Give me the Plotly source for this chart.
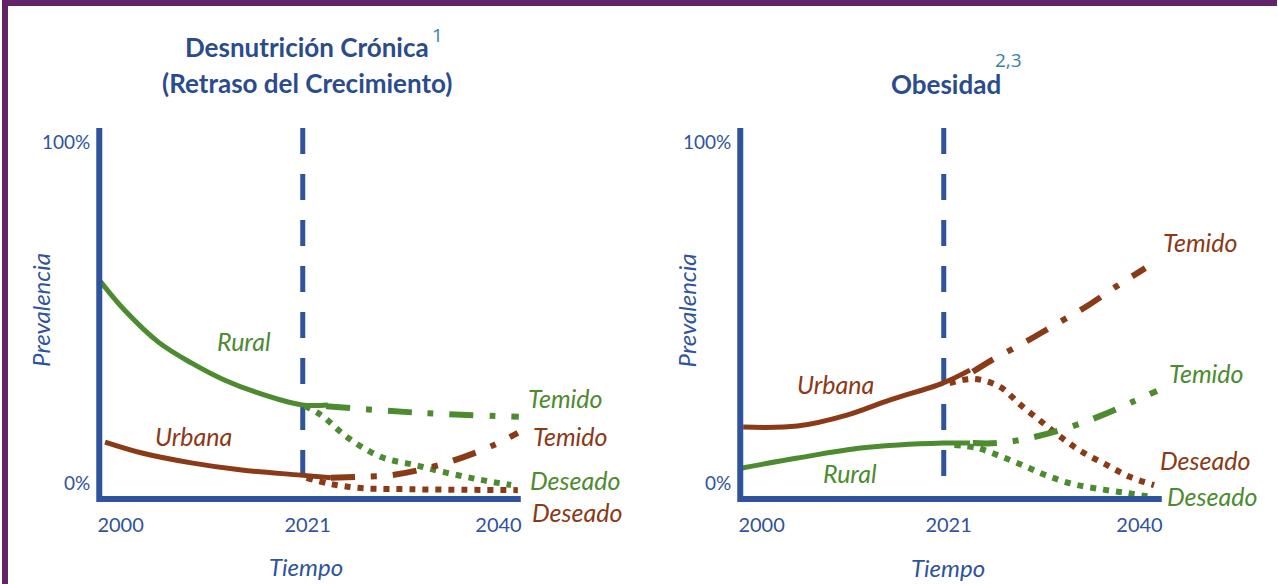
import plotly.graph_objects as go

W, H = 1278, 584
BLUE = "#2f539c"
TITLE_BLUE = "#2b4c8c"
GREEN = "#4d8b31"
BROWN = "#8b3a17"
PURPLE = "#612468"
SUP = "#3a7fa6"
FONT = "Lato"

# ---------------- data (x = year, y = prevalence %) ----------------
tick_positions = [2002.2, 2021.5, 2041.2]
tick_text = ["2000", "2021", "2040"]
pct_ticks = [0, 100]
pct_text = ["0%", "100%"]
CURRENT_YEAR = 2021

# Panel 1: Desnutrición crónica
dn_rural_x = [2000, 2002.6, 2006.1, 2009.5, 2012.9, 2016.4, 2020.9, 2023.6]
dn_rural_y = [59.5, 50.7, 41.3, 35.2, 30.2, 26.4, 22.9, 22.9]
dn_urb_x = [2000.6, 2004.4, 2009.5, 2014.7, 2020.8, 2023.9]
dn_urb_y = [12.0, 8.8, 5.9, 3.8, 2.3, 1.5]
dn_rural_temido_x = [2023.4, 2033.5, 2043.3]
dn_rural_temido_y = [22.5, 20.5, 19.4]
dn_rural_deseado_x = [2021.2, 2022.9, 2025.7, 2029.1, 2032.5, 2036.0, 2039.4, 2042.5]
dn_rural_deseado_y = [22.6, 19.9, 13.2, 7.6, 5.3, 2.9, 0.9, -0.6]
dn_urb_temido_x = [2023.9, 2026.5, 2030.1, 2033.9, 2037.3, 2040.7, 2043.2]
dn_urb_temido_y = [1.5, 1.8, 2.3, 4.4, 7.3, 11.1, 14.7]
dn_urb_deseado_x = [2021.4, 2023.9, 2027.0, 2031.1, 2043.2]
dn_urb_deseado_y = [1.5, -0.3, -1.5, -1.8, -2.1]

# Panel 2: Obesidad
ob_urb_x = [2000.3, 2005.9, 2011.0, 2015.4, 2020.9, 2023.7]
ob_urb_y = [16.4, 16.7, 19.9, 24.3, 29.3, 33.1]
ob_rural_x = [2000.2, 2005.9, 2012.7, 2020.9, 2023.7]
ob_rural_y = [4.4, 7.3, 10.3, 11.7, 11.7]
ob_urb_temido_x = [2024.0, 2026.0, 2029.4, 2032.6, 2035.8, 2038.9, 2041.8]
ob_urb_temido_y = [32.6, 36.1, 41.3, 46.6, 51.9, 57.8, 63.0]
ob_urb_deseado_x = [2021.6, 2024.2, 2026.8, 2028.8, 2031.1, 2033.2, 2035.3, 2037.8, 2040.2, 2042.7]
ob_urb_deseado_y = [29.3, 30.5, 28.2, 23.2, 17.9, 13.2, 9.1, 5.3, 1.8, -0.6]
ob_rural_temido_x = [2024.0, 2026.5, 2029.9, 2033.7, 2037.1, 2040.5, 2043.0]
ob_rural_temido_y = [11.7, 11.7, 13.2, 16.1, 19.6, 23.8, 27.0]
ob_rural_deseado_x = [2022.1, 2024.4, 2026.8, 2029.3, 2031.7, 2034.3, 2037.1, 2039.8, 2042.4]
ob_rural_deseado_y = [11.1, 10.3, 7.9, 5.0, 2.1, -0.3, -1.8, -2.9, -4.1]

# ---------------- layout helpers (pixels -> paper) ----------------
def px(x):
    return x / W

def py(y):
    return 1 - y / H

X_RANGE = [2000, 2043.5]
Y_RANGE = [-4.7, 104.1]
AX_TOP, AX_BOT = 128, 499
P1_L, P1_R = 97.5, 520
P2_L, P2_R = 740, 1162.5

SOLID = "solid"
TEMIDO = "24px,16px,6px,16px"
DESEADO = "6px,7px"

fig = go.Figure()

def add_line(x, y, color, dash, axis):
    fig.add_trace(go.Scatter(
        x=x, y=y, mode="lines", xaxis="x" + axis, yaxis="y" + axis,
        line=dict(color=color, width=5 if dash == SOLID else 6, dash=dash,
                  shape="spline", smoothing=1.0),
        hoverinfo="skip", showlegend=False,
    ))

# panel 1
add_line(dn_rural_deseado_x, dn_rural_deseado_y, GREEN, DESEADO, "")
add_line(dn_urb_deseado_x, dn_urb_deseado_y, BROWN, DESEADO, "")
add_line(dn_rural_temido_x, dn_rural_temido_y, GREEN, TEMIDO, "")
add_line(dn_urb_temido_x, dn_urb_temido_y, BROWN, TEMIDO, "")
add_line(dn_rural_x, dn_rural_y, GREEN, SOLID, "")
add_line(dn_urb_x, dn_urb_y, BROWN, SOLID, "")
# panel 2
add_line(ob_rural_deseado_x, ob_rural_deseado_y, GREEN, DESEADO, "2")
add_line(ob_urb_deseado_x, ob_urb_deseado_y, BROWN, DESEADO, "2")
add_line(ob_rural_temido_x, ob_rural_temido_y, GREEN, TEMIDO, "2")
add_line(ob_urb_temido_x, ob_urb_temido_y, BROWN, TEMIDO, "2")
add_line(ob_rural_x, ob_rural_y, GREEN, SOLID, "2")
add_line(ob_urb_x, ob_urb_y, BROWN, SOLID, "2")

xaxis_common = dict(
    range=X_RANGE, showgrid=False, zeroline=False, showline=False,
    tickmode="array", tickvals=tick_positions, ticktext=tick_text, ticks="",
    tickfont=dict(family=FONT, size=20, color=BLUE), fixedrange=True,
    ticklabelstandoff=12,
)
yaxis_common = dict(
    range=Y_RANGE, showgrid=False, zeroline=False, showline=False,
    tickmode="array", tickvals=pct_ticks, ticktext=pct_text, ticks="",
    tickfont=dict(family=FONT, size=19, color=BLUE), fixedrange=True,
    domain=[py(AX_BOT), py(AX_TOP)], ticklabelstandoff=8,
)

fig.update_layout(
    width=W, height=H, margin=dict(l=0, r=0, t=0, b=0),
    paper_bgcolor="white", plot_bgcolor="rgba(0,0,0,0)",
    xaxis=dict(domain=[px(P1_L), px(P1_R)], anchor="y", **xaxis_common),
    yaxis=dict(anchor="x", **yaxis_common),
    xaxis2=dict(domain=[px(P2_L), px(P2_R)], anchor="y2", **xaxis_common),
    yaxis2=dict(anchor="x2", **yaxis_common),
    showlegend=False,
)

shapes = []
# purple frame (top and left)
shapes.append(dict(type="rect", xref="paper", yref="paper", x0=0, x1=6 / W, y0=0, y1=1,
                   fillcolor=PURPLE, line=dict(width=0), layer="above"))
shapes.append(dict(type="rect", xref="paper", yref="paper", x0=0, x1=1, y0=1 - 6 / H, y1=1,
                   fillcolor=PURPLE, line=dict(width=0), layer="above"))
# current-year dashed lines
for ax in ["x", "x2"]:
    yd = "y domain" if ax == "x" else "y2 domain"
    shapes.append(dict(type="line", xref=ax, yref=yd, x0=CURRENT_YEAR, x1=CURRENT_YEAR, y0=1, y1=0,
                       line=dict(color=BLUE, width=5, dash="26px,20px"), layer="below"))
# L-shaped axes
for L, R in [(P1_L, P1_R), (P2_L, P2_R)]:
    path = f"M {px(L)},{py(AX_TOP)} L {px(L)},{py(AX_BOT)} L {px(R)},{py(AX_BOT)}"
    shapes.append(dict(type="path", xref="paper", yref="paper", path=path,
                       line=dict(color=BLUE, width=6), layer="above"))
fig.update_layout(shapes=shapes)

ann = []
def text(x, y, s, color, size, angle=0, family=FONT):
    ann.append(dict(x=px(x), y=py(y), xref="paper", yref="paper", text=s, showarrow=False,
                    xanchor="center", yanchor="middle", textangle=angle,
                    font=dict(family=family, size=size, color=color)))

# titles
text(306, 47, "<b>Desnutrición Crónica</b>", TITLE_BLUE, 26)
text(306, 83, "<b>(Retraso del Crecimiento)</b>", TITLE_BLUE, 26)
text(437, 35, "1", SUP, 19, family="Open Sans")
text(946, 84, "<b>Obesidad</b>", TITLE_BLUE, 26)
text(1009, 60, "2,3", SUP, 19, family="Open Sans")
# axis titles
for cx in [38, 686]:
    text(cx, 310, "<i>Prevalencia</i>", BLUE, 24, angle=-90)
text(305, 566, "<i>Tiempo</i>", BLUE, 24)
text(948, 567, "<i>Tiempo</i>", BLUE, 24)
# series labels panel 1
text(243, 341, "<i>Rural</i>", GREEN, 25)
text(192, 436, "<i>Urbana</i>", BROWN, 25)
text(565, 398, "<i>Temido</i>", GREEN, 25)
text(570, 436, "<i>Temido</i>", BROWN, 25)
text(575, 480, "<i>Deseado</i>", GREEN, 25)
text(577, 512, "<i>Deseado</i>", BROWN, 25)
# series labels panel 2
text(835, 384, "<i>Urbana</i>", BROWN, 25)
text(850, 473, "<i>Rural</i>", GREEN, 25)
text(1201, 242, "<i>Temido</i>", BROWN, 25)
text(1207, 373, "<i>Temido</i>", GREEN, 25)
text(1206, 460, "<i>Deseado</i>", BROWN, 25)
text(1213, 496, "<i>Deseado</i>", GREEN, 25)
fig.update_layout(annotations=ann)

# remove the default page margin so the 1278x584 figure fills the window exactly
fig.write_html(
    "out.html",
    config={"displayModeBar": False, "staticPlot": True},
    post_script="document.body.style.margin='0';document.body.style.overflow='hidden';",
)
